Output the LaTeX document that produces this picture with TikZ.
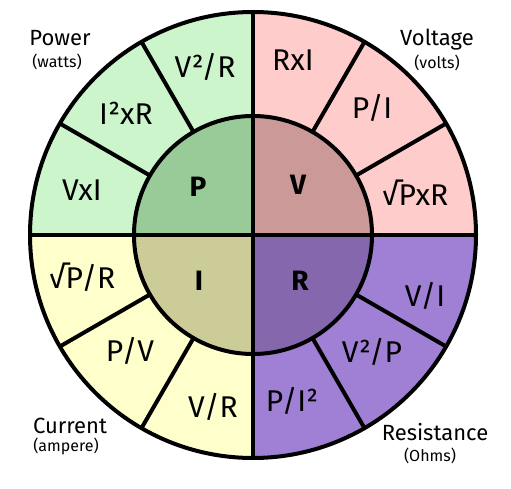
\documentclass[tikz,border=0pt]{standalone}
\usepackage{fontspec}
\usetikzlibrary{calc}
\setmainfont{Fira Sans}
\definecolor{greenout}{HTML}{CCF5CC}
\definecolor{greenin}{HTML}{99CB99}
\definecolor{pinkout}{HTML}{FFCCCC}
\definecolor{pinkin}{HTML}{CC9999}
\definecolor{yellowout}{HTML}{FFFFCC}
\definecolor{yellowin}{HTML}{CCCC99}
\definecolor{violetout}{HTML}{A080D4}
\definecolor{violetin}{HTML}{8467AD}
\tikzset{
  formula/.style={font=\fontsize{30}{32}\selectfont, inner sep=0pt},
  core/.style={font=\fontsize{28}{30}\selectfont\bfseries, inner sep=0pt},
  qty/.style={font=\fontsize{22}{24}\selectfont, inner sep=0pt},
  unit/.style={font=\fontsize{16}{18}\selectfont, inner sep=0pt},
  ring/.style={line width=4pt, black}
}
\begin{document}
\begin{tikzpicture}[x=1pt,y=1pt]
\useasboundingbox[fill=white] (0,0) rectangle (511,488);
\coordinate (C) at (253,253);
\def\Ro{223}
\def\Ri{119}
% outer quadrants
\fill[greenout] (C) -- ++(90:\Ro) arc (90:180:\Ro) -- cycle;
\fill[pinkout] (C) -- ++(0:\Ro) arc (0:90:\Ro) -- cycle;
\fill[yellowout] (C) -- ++(180:\Ro) arc (180:270:\Ro) -- cycle;
\fill[violetout] (C) -- ++(270:\Ro) arc (270:360:\Ro) -- cycle;
% inner quadrants
\fill[greenin] (C) -- ++(90:\Ri) arc (90:180:\Ri) -- cycle;
\fill[pinkin] (C) -- ++(0:\Ri) arc (0:90:\Ri) -- cycle;
\fill[yellowin] (C) -- ++(180:\Ri) arc (180:270:\Ri) -- cycle;
\fill[violetin] (C) -- ++(270:\Ri) arc (270:360:\Ri) -- cycle;
% lines
\draw[ring] (C) circle (\Ro);
\draw[ring] (C) circle (\Ri);
\draw[ring] ($(C)+(-\Ro,0)$) -- ($(C)+(\Ro,0)$);
\draw[ring] ($(C)+(0,-\Ro)$) -- ($(C)+(0,\Ro)$);
\foreach \a in {30,60,120,150,210,240,300,330}{
  \draw[ring] ($(C)+(\a:\Ri)$) -- ($(C)+(\a:\Ro)$);
}
% core letters
\node[core] (P) at (198,301) {P};
\node[core] (V) at (298,303) {V};
\node[core] (I) at (199,207) {I};
\node[core] (R) at (300,207) {R};
% formulas
\node[formula] (f1) at (205,421) {V²/R};
\node[formula] (f2) at (126,375) {I²xR};
\node[formula] (f3) at (82,298) {VxI};
\node[formula] (f4) at (293,428) {RxI};
\node[formula] (f5) at (372,380) {P/I};
\node[formula] (f6) at (415,295) {√PxR};
\node[formula] (f7) at (82,211) {√P/R};
\node[formula] (f8) at (130,137) {P/V};
\node[formula] (f9) at (213,81) {V/R};
\node[formula] (f10) at (425,192) {V/I};
\node[formula] (f11) at (372,136) {V²/P};
\node[formula] (f12) at (292,87) {P/I²};
% quantity labels
\node[qty] (lp) at (60,450) {Power};
\node[unit] (up) at (57,426) {(watts)};
\node[qty] (lv) at (437,448) {Voltage};
\node[unit] (uv) at (437,425) {(volts)};
\node[qty] (li) at (70,62) {Current};
\node[unit] (ui) at (66,42) {(ampere)};
\node[qty] (lr) at (435,56) {Resistance};
\node[unit] (ur) at (430,32) {(Ohms)};
\end{tikzpicture}
\end{document}
